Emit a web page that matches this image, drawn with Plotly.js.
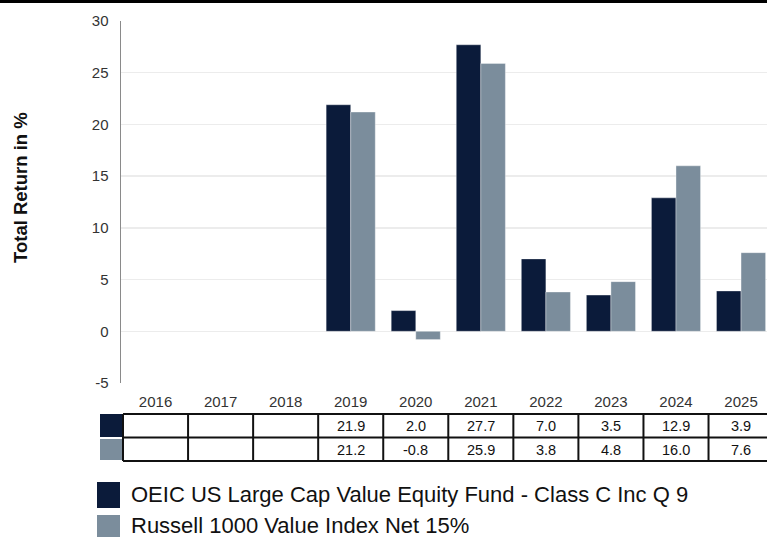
<!DOCTYPE html>
<html>
<head>
<meta charset="utf-8">
<script src="https://cdn.plot.ly/plotly-3.0.1.min.js"></script>
<style>html,body{margin:0;padding:0;background:#fff;}#chart{width:767px;height:537px;}</style>
</head>
<body>
<div id="chart"></div>
<script>
var years = ['2016','2017','2018','2019','2020','2021','2022','2023','2024','2025'];
var fundValues = [null, null, null, 21.9, 2.0, 27.7, 7.0, 3.5, 12.9, 3.9];
var indexValues = [null, null, null, 21.2, -0.8, 25.9, 3.8, 4.8, 16.0, 7.6];
var seriesNames = ['OEIC US Large Cap Value Equity Fund - Class C Inc Q 9', 'Russell 1000 Value Index Net 15%'];
var seriesColors = ['#0b1b3a', '#7b8d9c'];
var yTicks = [-5, 0, 5, 10, 15, 20, 25, 30];

var FONT = '"Liberation Sans", Arial, Helvetica, sans-serif';
var W = 767, H = 537, ML = 121, MT = 21, MB = 154;
var plotH = H - MT - MB, plotW = W - ML;
function py(p) { return ((H - MB) - p) / plotH; }
function px(p) { return (p - ML) / plotW; }

var traces = [
  {type: 'bar', x: years, y: fundValues, name: seriesNames[0], marker: {color: seriesColors[0], line: {color: 'rgba(255,255,255,0.6)', width: 0.6}}, hoverinfo: 'skip'},
  {type: 'bar', x: years, y: indexValues, name: seriesNames[1], marker: {color: seriesColors[1], line: {color: 'rgba(255,255,255,0.6)', width: 0.6}}, hoverinfo: 'skip'}
];

var shapes = [];
var annotations = [];

// top rule
shapes.push({type: 'line', xref: 'paper', yref: 'paper', x0: px(0), x1: 1, y0: py(1.5), y1: py(1.5), line: {color: '#000', width: 3}});

// data table
var rowTops = [414, 437.5, 461];
var rowVals = [fundValues, indexValues];
rowTops.forEach(function (t) {
  shapes.push({type: 'line', xref: 'x', yref: 'paper', x0: -0.5, x1: years.length - 0.5, y0: py(t), y1: py(t), line: {color: '#111', width: 2}});
});
for (var i = 0; i <= years.length; i++) {
  shapes.push({type: 'line', xref: 'x', yref: 'paper', x0: i - 0.5, x1: i - 0.5, y0: py(rowTops[0]), y1: py(rowTops[2]), line: {color: '#111', width: 2}});
}
// swatches in table
shapes.push({type: 'rect', xref: 'paper', yref: 'paper', x0: px(100), x1: px(122), y0: py(437), y1: py(414), fillcolor: seriesColors[0], line: {width: 0}});
shapes.push({type: 'rect', xref: 'paper', yref: 'paper', x0: px(100), x1: px(122), y0: py(460), y1: py(439), fillcolor: seriesColors[1], line: {width: 0}});
rowVals.forEach(function (vals, r) {
  vals.forEach(function (v, k) {
    if (v === null) return;
    annotations.push({xref: 'x', yref: 'paper', x: k, y: py(426 + r * 23.5), text: v.toFixed(1), showarrow: false, font: {family: FONT, size: 14.5, color: '#111'}, xanchor: 'center', yanchor: 'middle'});
  });
});

// legend
var legY = [[482, 508], [515, 540]];
seriesNames.forEach(function (n, k) {
  shapes.push({type: 'rect', xref: 'paper', yref: 'paper', x0: px(97), x1: px(120), y0: py(legY[k][1]), y1: py(legY[k][0]), fillcolor: seriesColors[k], line: {width: 0}});
  annotations.push({xref: 'paper', yref: 'paper', x: px(129), y: py(494.5 + k * 31), text: n, showarrow: false, xanchor: 'left', yanchor: 'middle', font: {family: FONT, size: 22, color: '#111'}});
});

// y-axis title
annotations.push({xref: 'paper', yref: 'paper', x: px(20), y: py(188), text: '<b>Total Return in %</b>', textangle: -90, showarrow: false, xanchor: 'center', yanchor: 'middle', font: {family: FONT, size: 18.5, color: '#111'}});

var layout = {
  width: W, height: H,
  margin: {l: ML, r: 0, t: MT, b: MB, pad: 0},
  paper_bgcolor: '#fff', plot_bgcolor: '#fff',
  showlegend: false,
  barmode: 'group', bargap: 0.245, bargroupgap: 0,
  font: {family: FONT, size: 12, color: '#333'},
  xaxis: {type: 'category', range: [-0.531, 9.399], showgrid: false, showline: false, zeroline: false,
    ticks: 'outside', ticklen: 5, tickcolor: 'rgba(0,0,0,0)', tickfont: {family: FONT, size: 15, color: '#333'}, fixedrange: true},
  yaxis: {range: [-5, 30], tickvals: yTicks, ticktext: yTicks.map(String), showgrid: true, gridcolor: '#ececec', gridwidth: 1.5,
    showline: true, linecolor: '#8a8a8a', linewidth: 1.5, zeroline: false,
    ticks: 'outside', ticklen: 8, tickcolor: 'rgba(0,0,0,0)', tickfont: {family: FONT, size: 15, color: '#333'}, fixedrange: true},
  shapes: shapes,
  annotations: annotations
};

Plotly.newPlot('chart', traces, layout, {staticPlot: true, displayModeBar: false});
</script>
</body>
</html>
